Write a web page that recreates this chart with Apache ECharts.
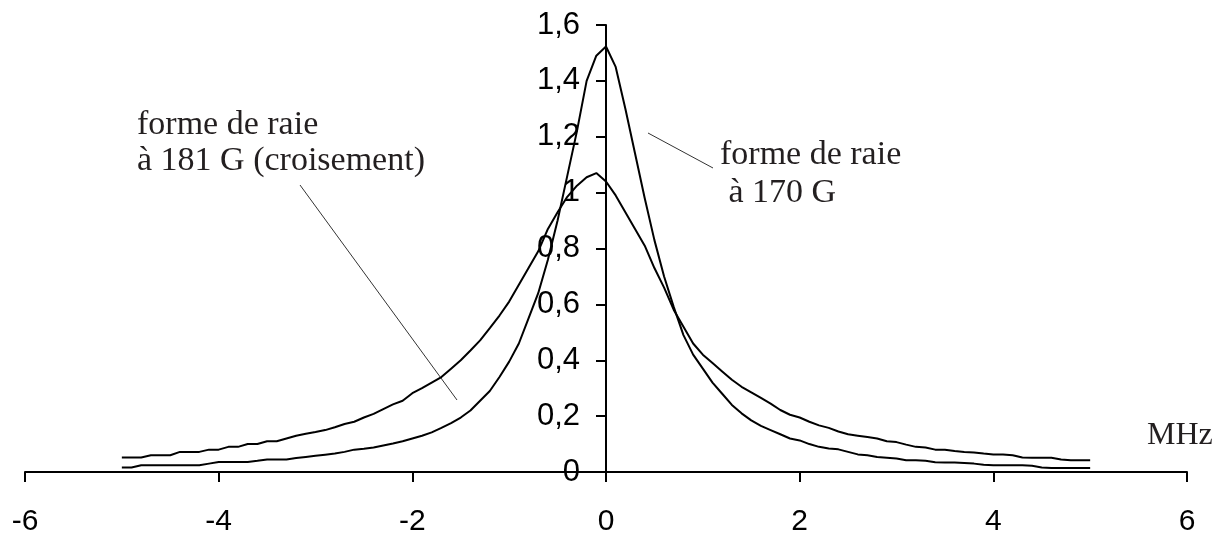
<!DOCTYPE html>
<html>
<head>
<meta charset="utf-8">
<script src="https://cdn.jsdelivr.net/npm/echarts@6/dist/echarts.min.js"></script>
<style>html,body{margin:0;padding:0;background:#fff}#c{width:1221px;height:538px}</style>
</head>
<body>
<div id="c"></div>
<script>
// Frequency offsets (MHz)
const freqMHz = [-5.0,-4.9,-4.8,-4.7,-4.6,-4.5,-4.4,-4.3,-4.2,-4.1,-4.0,-3.9,-3.8,-3.7,-3.6,-3.5,-3.4,-3.3,-3.2,-3.1,-3.0,-2.9,-2.8,-2.7,-2.6,-2.5,-2.4,-2.3,-2.2,-2.1,-2.0,-1.9,-1.8,-1.7,-1.6,-1.5,-1.4,-1.3,-1.2,-1.1,-1.0,-0.9,-0.8,-0.7,-0.6,-0.5,-0.4,-0.3,-0.2,-0.1,0.0,0.1,0.2,0.3,0.4,0.5,0.6,0.7,0.8,0.9,1.0,1.1,1.2,1.3,1.4,1.5,1.6,1.7,1.8,1.9,2.0,2.1,2.2,2.3,2.4,2.5,2.6,2.7,2.8,2.9,3.0,3.1,3.2,3.3,3.4,3.5,3.6,3.7,3.8,3.9,4.0,4.1,4.2,4.3,4.4,4.5,4.6,4.7,4.8,4.9,5.0];
// Line shape at 181 G (crossing) – broad curve
const raie181 = [0.052,0.052,0.052,0.060,0.060,0.060,0.072,0.072,0.072,0.080,0.080,0.090,0.090,0.100,0.100,0.110,0.110,0.120,0.130,0.137,0.143,0.150,0.160,0.172,0.180,0.195,0.208,0.225,0.242,0.255,0.282,0.300,0.320,0.340,0.370,0.400,0.435,0.471,0.515,0.560,0.610,0.670,0.730,0.790,0.870,0.930,0.985,1.025,1.055,1.070,1.040,0.990,0.930,0.870,0.810,0.730,0.660,0.580,0.520,0.460,0.420,0.390,0.360,0.330,0.305,0.285,0.265,0.245,0.222,0.205,0.195,0.180,0.167,0.158,0.145,0.135,0.130,0.125,0.120,0.110,0.107,0.098,0.090,0.088,0.080,0.080,0.075,0.072,0.070,0.066,0.063,0.063,0.060,0.052,0.051,0.051,0.051,0.045,0.042,0.042,0.042];
// Line shape at 170 G – narrow curve
const raie170 = [0.016,0.016,0.024,0.024,0.024,0.024,0.024,0.024,0.024,0.030,0.036,0.036,0.036,0.036,0.040,0.045,0.045,0.045,0.050,0.054,0.058,0.062,0.066,0.072,0.080,0.083,0.088,0.095,0.102,0.110,0.120,0.130,0.142,0.158,0.175,0.195,0.220,0.255,0.290,0.340,0.395,0.460,0.550,0.640,0.760,0.900,1.060,1.220,1.400,1.490,1.523,1.450,1.300,1.140,0.980,0.830,0.700,0.590,0.490,0.420,0.370,0.320,0.280,0.240,0.210,0.185,0.165,0.150,0.135,0.120,0.113,0.100,0.090,0.084,0.081,0.072,0.063,0.060,0.054,0.051,0.048,0.042,0.042,0.040,0.035,0.034,0.034,0.032,0.030,0.026,0.024,0.024,0.024,0.024,0.022,0.016,0.014,0.014,0.014,0.014,0.014];
const xTicks = [-6,-4,-2,0,2,4,6];
const yTicks = [0,0.2,0.4,0.6,0.8,1,1.2,1.4,1.6];

const GRID_LEFT = 25, GRID_RIGHT = 34;
const W = 1221;
const chart = echarts.init(document.getElementById('c'), null, {renderer:'canvas'});
const pairs = (ys) => freqMHz.map((x,i)=>[x, ys[i]]);
const serif = 'Liberation Serif, Times New Roman, serif';
const txt = '#231f20';
const xmin = xTicks[0], xmax = xTicks[xTicks.length-1];
// y axis sits at x = 0: shift it right from the grid's left edge
const yOffset = -((0 - xmin) / (xmax - xmin)) * (W - GRID_LEFT - GRID_RIGHT);

chart.setOption({
  animation:false,
  grid:{left:GRID_LEFT,right:GRID_RIGHT,top:25,bottom:66,containLabel:false,outerBoundsMode:'none'},
  xAxis:{
    type:'value', min:xmin, max:xmax, interval:2,
    splitLine:{show:false},
    axisLine:{onZero:false, lineStyle:{color:'#000',width:2}},
    axisTick:{show:true,inside:false,length:10,lineStyle:{color:'#000',width:2}},
    axisLabel:{color:'#000',fontSize:30,fontFamily:'Liberation Sans, Arial, sans-serif',margin:35}
  },
  yAxis:{
    type:'value', min:yTicks[0], max:yTicks[yTicks.length-1], interval:0.2,
    position:'left', offset:yOffset,
    splitLine:{show:false},
    axisLine:{show:true,onZero:false,lineStyle:{color:'#000',width:2}},
    axisTick:{show:true,inside:false,length:10,lineStyle:{color:'#000',width:2}},
    axisLabel:{color:'#000',fontSize:31,fontFamily:'Liberation Sans, Arial, sans-serif',margin:26,
      formatter:(v)=>String(Math.round(v*10)/10).replace('.',',')}
  },
  series:[
    {type:'line',name:'181 G',data:pairs(raie181),showSymbol:false,symbol:'none',lineStyle:{color:'#000',width:2},z:3},
    {type:'line',name:'170 G',data:pairs(raie170),showSymbol:false,symbol:'none',lineStyle:{color:'#000',width:2},z:3}
  ],
  graphic:[
    {type:'text',left:137,top:107,style:{text:'forme de raie\nà 181 G (croisement)',font:'34px '+serif,fill:txt,lineHeight:36}},
    {type:'line',shape:{x1:300,y1:185,x2:457,y2:400},style:{stroke:'#333',lineWidth:1}},
    {type:'text',left:720,top:136,style:{text:'forme de raie\n à 170 G',font:'34px '+serif,fill:txt,lineHeight:38}},
    {type:'line',shape:{x1:648,y1:133,x2:713,y2:168},style:{stroke:'#333',lineWidth:1}},
    {type:'text',left:1147,top:420,style:{text:'MHz',font:'32px '+serif,fill:txt}}
  ]
});
</script>
</body>
</html>
